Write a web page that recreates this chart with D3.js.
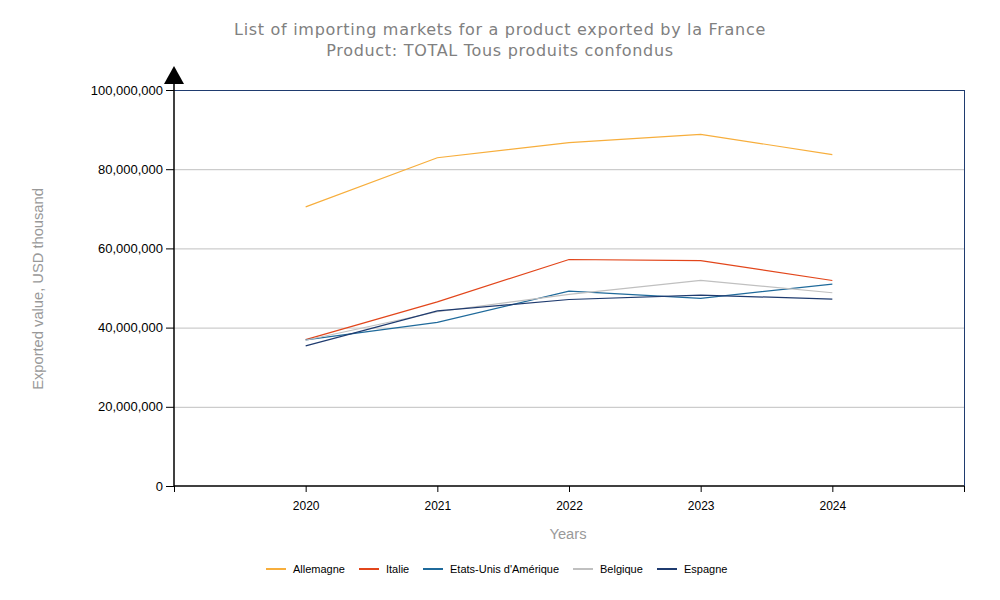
<!DOCTYPE html>
<html>
<head>
<meta charset="utf-8">
<script src="https://cdn.jsdelivr.net/npm/d3@7"></script>
<style>
body { margin: 0; background: #fff; }
</style>
</head>
<body>
<div id="chart"></div>
<script>
var width = 1000
var height = 600

var years = [2020, 2021, 2022, 2023, 2024]
var markets = ['Allemagne', 'Italie', "Etats-Unis d'Amérique", 'Belgique', 'Espagne']
var colors = ['#f7ae3c', '#e2461b', '#1f6a9b', '#c0c0c0', '#1f3b6f']

// values in USD thousand
var allemagne = [70500000, 82900000, 86700000, 88800000, 83700000]
var italie = [36950000, 46500000, 57200000, 56900000, 51900000]
var etats_unis = [36900000, 41300000, 49200000, 47400000, 51000000]
var belgique = [36800000, 44000000, 48400000, 51900000, 48800000]
var espagne = [35400000, 44200000, 47100000, 48200000, 47200000]

var series = [allemagne, italie, etats_unis, belgique, espagne]
var y_ticks = [0, 20000000, 40000000, 60000000, 80000000, 100000000]

var plot_left = 174, plot_right = 964, plot_top = 90, plot_bottom = 486

var x = d3.scaleLinear().domain([2019, 2025]).range([plot_left, plot_right])
var y = d3.scaleLinear().domain([0, 100000000]).range([plot_bottom, plot_top])

var svg = d3.select('#chart')
  .append('svg')
  .attr('width', width)
  .attr('height', height)

// title
svg.append('text')
.attr('x', 500)
.attr('y', 35)
.attr('text-anchor', 'middle')
.attr('fill', '#808080')
.style('font-family', 'DejaVu Sans, Verdana, sans-serif')
.style('font-size', '16px')
.style('letter-spacing', '0.7px')
.text('List of importing markets for a product exported by la France')

svg.append('text')
.attr('x', 500)
.attr('y', 56)
.attr('text-anchor', 'middle')
.attr('fill', '#808080')
.style('font-family', 'DejaVu Sans, Verdana, sans-serif')
.style('font-size', '16px')
.style('letter-spacing', '0.7px')
.text('Product: TOTAL Tous produits confondus')

// gridlines
svg.append('g')
.selectAll('line')
.data(y_ticks.filter(function(d) { return d > 0 && d < 100000000 }))
.enter()
.append('line')
.attr('x1', plot_left)
.attr('x2', plot_right)
.attr('y1', function(d) { return y(d) + 0.5 })
.attr('y2', function(d) { return y(d) + 0.5 })
.attr('stroke', '#c0c0c0')
.attr('stroke-width', 1)

// top and right border
svg.append('line')
.attr('x1', plot_left).attr('x2', plot_right)
.attr('y1', y(100000000) + 0.5).attr('y2', y(100000000) + 0.5)
.attr('stroke', '#1f3b6f')
svg.append('line')
.attr('x1', plot_right + 0.5).attr('x2', plot_right + 0.5)
.attr('y1', plot_top).attr('y2', plot_bottom)
.attr('stroke', '#1f3b6f')

// y axis
var y_axis = svg.append('g')
.attr('transform', 'translate(' + plot_left + ',0)')
.call(d3.axisLeft(y).tickValues(y_ticks).tickSize(8).tickPadding(3).tickFormat(d3.format(',.0f')))
y_axis.selectAll('text')
.style('font-family', 'Liberation Sans, Arial, sans-serif')
.style('font-size', '13px')
.attr('fill', '#000')
y_axis.select('.domain').attr('d', 'M0,' + plot_bottom + 'V' + (plot_top - 8)).attr('stroke', '#000').attr('stroke-width', 1.5)
y_axis.selectAll('.tick line').attr('stroke', '#000')

// arrow on y axis
svg.append('path')
.attr('d', 'M' + plot_left + ',66L' + (plot_left + 10) + ',84L' + (plot_left - 10) + ',84Z')
.attr('fill', '#000')

// x axis
var x_axis = svg.append('g')
.attr('transform', 'translate(0,' + plot_bottom + ')')
.call(d3.axisBottom(x).tickValues([2019].concat(years).concat([2025])).tickSize(6).tickPadding(9).tickFormat(function(d) {
  return (d === 2019 || d === 2025) ? '' : d }))
x_axis.selectAll('text')
.style('font-family', 'Liberation Sans, Arial, sans-serif')
.style('font-size', '12px')
.attr('fill', '#000')
x_axis.select('.domain').attr('d', 'M' + plot_left + ',0H' + plot_right).attr('stroke', '#000').attr('stroke-width', 1.5)
x_axis.selectAll('.tick line').attr('stroke', '#000')

// axis titles
svg.append('text')
.attr('transform', 'translate(43,289) rotate(-90)')
.attr('text-anchor', 'middle')
.attr('fill', '#999')
.style('font-family', 'Liberation Sans, Arial, sans-serif')
.style('font-size', '14.7px')
.text('Exported value, USD thousand')

svg.append('text')
.attr('x', 568)
.attr('y', 539)
.attr('text-anchor', 'middle')
.attr('fill', '#999')
.style('font-family', 'Liberation Sans, Arial, sans-serif')
.style('font-size', '14.7px')
.text('Years')

// lines
var line = d3.line()
.x(function(d, i) { return x(years[i]) })
.y(function(d) { return y(d) })

svg.append('g')
.selectAll('path')
.data(series)
.enter()
.append('path')
.attr('d', function(d) { return line(d) })
.attr('fill', 'none')
.attr('stroke', function(d, i) { return colors[i] })
.attr('stroke-width', 1.2)

// legend
var legend_x = [266, 359, 423, 573, 657]
var legend = svg.append('g')
.selectAll('g')
.data(markets)
.enter()
.append('g')
.attr('transform', function(d, i) { return 'translate(' + legend_x[i] + ',569)' })

legend.append('line')
.attr('x1', 0).attr('x2', 20)
.attr('y1', 0).attr('y2', 0)
.attr('stroke', function(d, i) { return colors[i] })
.attr('stroke-width', 2)

legend.append('text')
.attr('x', 27)
.attr('y', 4)
.style('font-family', 'Liberation Sans, Arial, sans-serif')
.style('font-size', '11px')
.attr('fill', '#000')
.text(function(d) { return d })
</script>
</body>
</html>
